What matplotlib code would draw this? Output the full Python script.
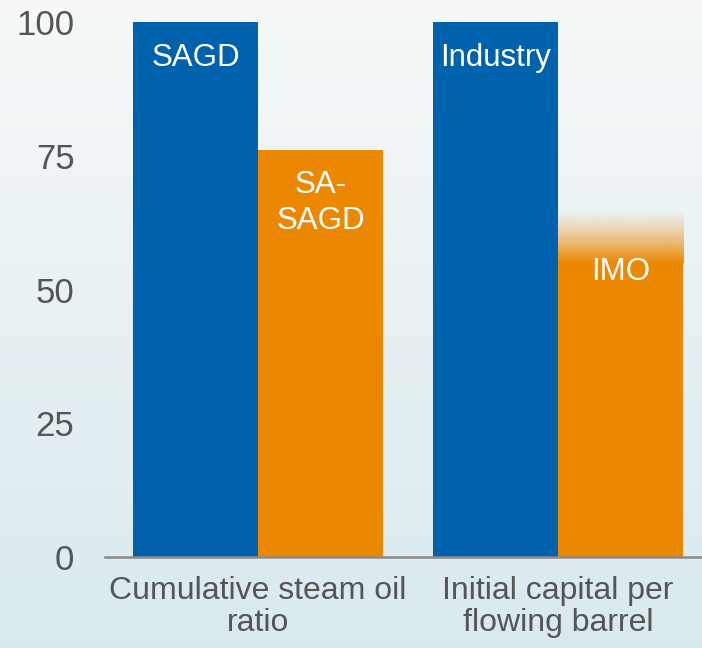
import numpy as np
import matplotlib.pyplot as plt

plt.rcParams['font.family'] = ['Liberation Sans', 'DejaVu Sans']

categories = ["Cumulative steam oil\nratio", "Initial capital per\nflowing barrel"]
base_names = ["SAGD", "Industry"]
base_values = [100, 100]
new_names = ["SA-\nSAGD", "IMO"]
new_values = [76, 55]      # solid part
new_upper = [76, 65]       # top of faded range
label_drop = [9.8, 1.7]    # label centre below the solid top
yticks = [0, 25, 50, 75, 100]

blue = "#0062AD"
orange = "#EC8800"

fig = plt.figure(figsize=(7.02, 6.48), dpi=100)

# background gradient (whitish at top, pale blue at bottom)
bg = fig.add_axes([0, 0, 1, 1], zorder=-10)
grad = np.linspace(0, 1, 256).reshape(-1, 1)
top = np.array([0.965, 0.972, 0.975])
bot = np.array([0.85, 0.915, 0.935])
img = top[None, None, :] * (1 - grad[:, :, None]) + bot[None, None, :] * grad[:, :, None]
bg.imshow(img, aspect='auto', extent=[0, 1, 0, 1])
bg.axis('off')

ax = fig.add_axes([0.1496, 0.1404, 0.8504, 0.8256])
ax.patch.set_alpha(0)

x = np.arange(len(categories))
w = 0.417
ax.bar(x - w / 2, base_values, w, color=blue, align='center', zorder=2)
ax.bar(x + w / 2, new_values, w, color=orange, align='center', zorder=2)

# faded range on top of orange bars
fade = np.linspace(0, 1, 200).reshape(-1, 1)
for xi, lo, hi in zip(x, new_values, new_upper):
    if hi > lo:
        c = np.array([0xEC, 0x88, 0x00]) / 255.0
        rgba = np.zeros((200, 1, 4))
        rgba[..., :3] = c
        rgba[..., 3] = (1 - fade) ** 1.3
        ax.imshow(rgba, aspect='auto', origin='lower',
                  extent=[xi, xi + w, lo, hi], zorder=2)

for xi, name, v in zip(x, base_names, base_values):
    ax.text(xi - w / 2, v - 6.7, name, color='white', fontsize=22.5,
            ha='center', va='center', zorder=3)
for xi, name, v, d in zip(x, new_names, new_values, label_drop):
    ax.text(xi + w / 2, v - d, name, color='white', fontsize=22.5,
            ha='center', va='center', linespacing=1.28, zorder=3)

ax.set_xlim(-0.51, 1.48)
ax.set_ylim(0, 100)
ax.set_yticks(yticks)
ax.set_xticks(x)
ax.set_xticklabels(categories, fontsize=23, color='#555555', linespacing=1.08)
ax.tick_params(axis='y', length=0, pad=22, labelsize=25, labelcolor='#555555')
ax.tick_params(axis='x', length=0, pad=14)
for s in ['left', 'right', 'top']:
    ax.spines[s].set_visible(False)
ax.spines['bottom'].set_color('#8a8a8a')
ax.spines['bottom'].set_linewidth(1.8)

fig.savefig("out.png", dpi=100)
